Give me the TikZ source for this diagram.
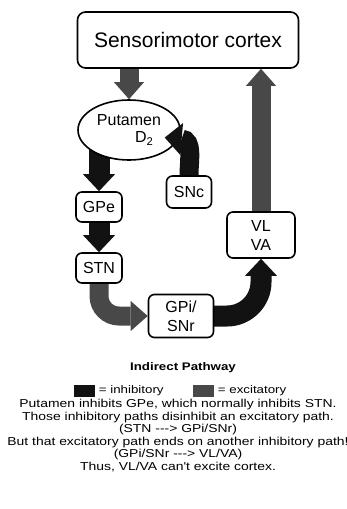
\documentclass[tikz,border=0pt]{standalone}
\usepackage{fontspec}
\setmainfont{Liberation Sans}
\newfontfamily\capfont[FakeStretch=1.21]{Liberation Sans}
\usetikzlibrary{positioning,arrows.meta,shapes.geometric,backgrounds}
\definecolor{inhcol}{RGB}{18,18,18}
\definecolor{exccol}{RGB}{72,72,72}

\begin{document}
\begin{tikzpicture}[
  x=1pt, y=1pt,
  every node/.style={font=\fontsize{16}{19}\selectfont},
  %% basal ganglia nucleus — white rounded box
  nb/.style={
    draw=black, fill=white, line width=1.6pt,
    rounded corners=6pt, align=center, inner sep=1pt
  },
  %% inhibitory projection — fat black arrow
  inh/.style={
    line width=21pt, inhcol,
    -{Triangle[width=32pt,length=17pt,line width=0pt]}
  },
  %% excitatory projection — fat dark grey arrow
  exc/.style={
    line width=19pt, exccol,
    -{Triangle[width=30pt,length=17pt,line width=0pt]}
  },
  %% caption text under the diagram
  captxt/.style={
    font=\capfont\fontsize{11.5}{12.6}\selectfont,
    inner sep=0pt, align=center
  },
  %% legend swatch and its label
  keybox/.style={minimum width=21pt, minimum height=12pt, inner sep=0pt},
  keytxt/.style={font=\capfont\fontsize{11}{12}\selectfont, inner sep=0pt},
]
\useasboundingbox (0,0) rectangle (347,-509);

%%── Cortex and basal ganglia nuclei ──────────────────────────────────────────
\node[nb, rounded corners=8pt, minimum width=221pt, minimum height=56pt,
      font=\fontsize{21}{24}\selectfont] (cortex) at (188,-40)
  {Sensorimotor cortex};

\node[draw=black, fill=white, line width=1.6pt, ellipse,
      minimum width=102pt, minimum height=60pt,
      align=center, inner sep=0pt] (putamen) at (129,-130)
  {Putamen\\[-2pt]\hspace*{1.9em}D\textsubscript{2}};

\node[nb, minimum width=46pt, minimum height=30pt] (gpe) at (99,-207) {GPe};
\node[nb, minimum width=46pt, minimum height=30pt] (stn) at (99,-268) {STN};
\node[nb, minimum width=45pt, minimum height=32pt] (snc) at (189,-192) {SNc};
\node[nb, minimum width=65pt, minimum height=43pt] (gpi) at (181,-316)
  {GPi/\\SNr};
\node[nb, minimum width=68pt, minimum height=46pt] (vl) at (261,-235)
  {VL\\VA};

%%── Projections (shafts tucked behind the boxes) ─────────────────────────────
\begin{pgfonlayer}{background}
  \draw[exc] (cortex.center -| putamen.north) -- (putamen.north);
  \draw[exc] (vl.center) -- (vl.center |- cortex.south);
  \draw[inh] (putamen.center -| gpe.north) -- (gpe.north);
  \draw[inh] (gpe.center) -- (stn.north);
  \draw[exc, rounded corners=20pt] (stn.center) |- (gpi.west);
  \draw[inh, rounded corners=34pt] (gpi.center) -| (vl.south);
\end{pgfonlayer}

%% dopaminergic input ends on top of the ellipse
\draw[inh, line width=19pt, shorten >=-14pt]
  (snc.north) to[out=90,in=-5] (putamen.-10);

%%── Legend ───────────────────────────────────────────────────────────────────
\node[font=\capfont\bfseries\fontsize{11}{12}\selectfont] (title)
  at (183,-368) {Indirect Pathway};

\node[keybox, fill=inhcol] (inhkey) at (84,-391) {};
\node[keytxt, right=4pt of inhkey] (inhlab) {= inhibitory};
\node[keybox, fill=exccol] (exckey) at (203,-391) {};
\node[keytxt, right=4pt of exckey] (exclab) {= excitatory};

%%── Explanation ──────────────────────────────────────────────────────────────
\node[captxt, anchor=north] (expl) at (178,-399)
  {Putamen inhibits GPe, which normally inhibits STN.\\
   Those inhibitory paths disinhibit an excitatory path.\\
   (STN {-}{-}{-}> GPi/SNr)\\
   But that excitatory path ends on another inhibitory path!\\
   (GPi/SNr {-}{-}{-}> VL/VA)\\
   Thus, VL/VA can't excite cortex.};

\end{tikzpicture}
\end{document}
